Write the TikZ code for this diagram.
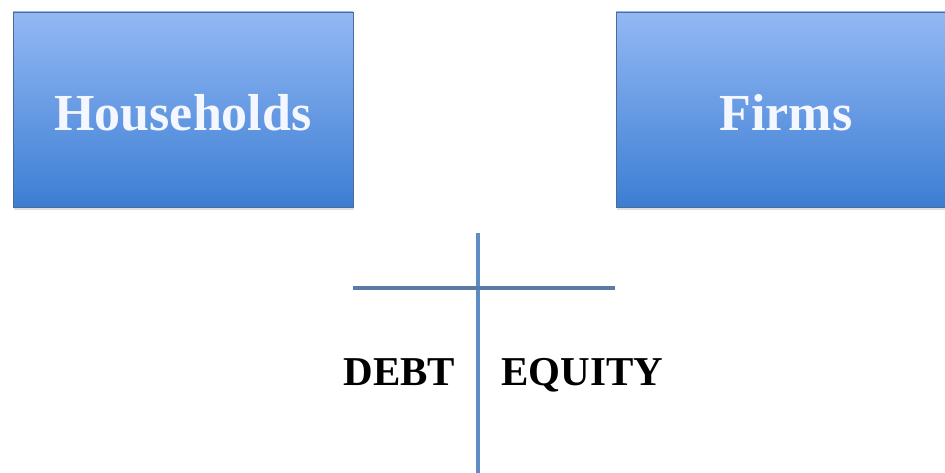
\documentclass[tikz,border=0pt]{standalone}
\usepackage{fontspec}
\setmainfont{Liberation Serif}
\usetikzlibrary{shadows}
\definecolor{boxtop}{HTML}{93B8F4}
\definecolor{boxbot}{HTML}{3C7ED3}
\definecolor{boxedge}{HTML}{4A6C96}
\definecolor{hline}{HTML}{5A7BA3}
\definecolor{vline}{HTML}{5E8DC6}
\definecolor{boxtext}{HTML}{F4F7FF}
\tikzset{
  agent/.style={rectangle, draw=boxedge, line width=0.8pt, top color=boxtop, bottom color=boxbot,
    minimum width=340pt, minimum height=195pt, inner sep=0pt, text height=43pt, text depth=0pt,
    text=boxtext, font=\fontsize{52}{56}\selectfont\bfseries,
    drop shadow={opacity=0.25, shadow xshift=1pt, shadow yshift=-3pt}},
  lbl/.style={font=\fontsize{41}{44}\selectfont\bfseries, text=black, anchor=base, inner sep=0pt},
  tline/.style={line width=4pt}
}
\begin{document}
\begin{tikzpicture}[x=1pt,y=1pt]
\useasboundingbox (0,0) rectangle (945,472);
\clip (0,0) rectangle (945,472);
\fill[white] (0,0) rectangle (945,472);
\node[agent] (hh) at (183,362.5) {Households};
\node[agent] (firms) at (786,362.5) {Firms};
\coordinate (vtop) at (478,239);
\coordinate (vbot) at (478,-2);
\coordinate (hl) at (353,184);
\coordinate (hr) at (615,184);
\draw[tline, draw=vline] (vtop) -- (vbot);
\draw[tline, draw=hline] (hl) -- (hr);
\node[lbl] (debt) at (399.5,87) {DEBT};
\node[lbl] (equity) at (582.5,87) {EQUITY};
\end{tikzpicture}
\end{document}
